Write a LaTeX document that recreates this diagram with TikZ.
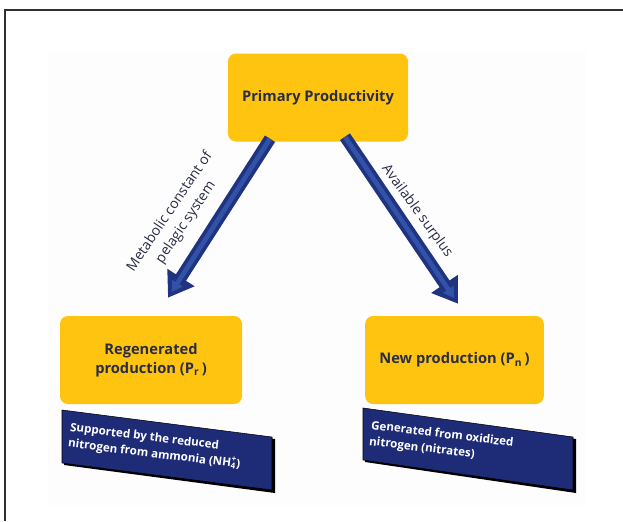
\documentclass[tikz,border=0pt]{standalone}
\usepackage{fontspec}
\setmainfont{Open Sans}
\usetikzlibrary{arrows.meta,calc}
\definecolor{gold}{HTML}{FEC40F}
\definecolor{navy}{HTML}{1E2C78}
\definecolor{arrowdark}{HTML}{1F3380}
\definecolor{arrowlight}{HTML}{3152A6}
\definecolor{inktext}{HTML}{2A2C45}
\definecolor{frameline}{HTML}{303030}

\begin{document}
\begin{tikzpicture}[x=0.75pt,y=-0.75pt,
  goldbox/.style={fill=gold, rounded corners=6pt, inner sep=2pt,
    minimum width=135pt, minimum height=66pt, text=inktext, align=center,
    font=\bfseries\fontsize{11}{14}\selectfont},
  flowarrow/.style={draw=arrowdark, line width=9pt,
    -{Triangle[width=23pt,length=18pt]}},
  flowshine/.style={draw=arrowlight, line width=3.5pt, shorten >=5pt,
    -{Triangle[width=9pt,length=8pt]}},
  arrowlabel/.style={text=inktext, align=center, inner sep=1pt,
    font=\fontsize{10.5}{14.5}\selectfont},
  notebox/.style={fill=navy, draw=black, line width=0.4pt},
  noteshadow/.style={fill=black},
  notetext/.style={text=white, align=left, inner sep=0pt, anchor=west,
    rotate=-7, font=\bfseries\fontsize{8.7}{12}\selectfont}
]
\useasboundingbox (0,0) rectangle (623,521);

% page frame and faint panel
\fill[gray!1.5] (48,52) rectangle (586,505);
\draw[frameline, line width=1pt] (5,521) -- (5,10) -- (623,10);

% main boxes
\node[goldbox] (pp)  at (318,97.5) {Primary Productivity};
\node[goldbox, minimum width=136.5pt] (reg) at (151,360)
  {Regenerated\\production (P\textsubscript{r}\,)};
\node[goldbox, minimum width=134pt] (new) at (454.5,360)
  {New production (P\textsubscript{n}\,)};

% connectors
\coordinate (lstart) at ([shift={(-48,-3)}]pp.south);
\coordinate (lend)   at ([shift={(17,-18)}]reg.north);
\coordinate (rstart) at ([shift={(27,-5)}]pp.south);
\coordinate (rend)   at ([shift={(3.5,-12)}]new.north);
\draw[flowarrow] (lstart) -- (lend);
\draw[flowshine] (lstart) -- (lend);
\draw[flowarrow] (rstart) -- (rend);
\draw[flowshine] (rstart) -- (rend);

\node[arrowlabel, rotate=56] (llabel) at (178,217)
  {Metabolic constant of\\pelagic system};
\node[arrowlabel, rotate=-54] (rlabel) at (417,211) {Available surplus};

% slanted notes under the lower boxes
\fill[noteshadow] (64,412) -- (275,439) -- (275,493) -- (64,465) -- cycle;
\draw[notebox] (62,410) -- (272,437) -- (272,490) -- (62,463) -- cycle;
\node[notetext] (regnote) at (69,436)
  {Supported by the reduced\\nitrogen from ammonia (NH\rlap{\textsuperscript{+}}\textsubscript{4})};

\fill[noteshadow] (365,410) -- (576,439) -- (576,493) -- (365,462) -- cycle;
\draw[notebox] (363,408) -- (573,437) -- (573,490) -- (363,460) -- cycle;
\node[notetext] (newnote) at (370,434)
  {Generated from oxidized\\nitrogen (nitrates)};
\end{tikzpicture}
\end{document}
